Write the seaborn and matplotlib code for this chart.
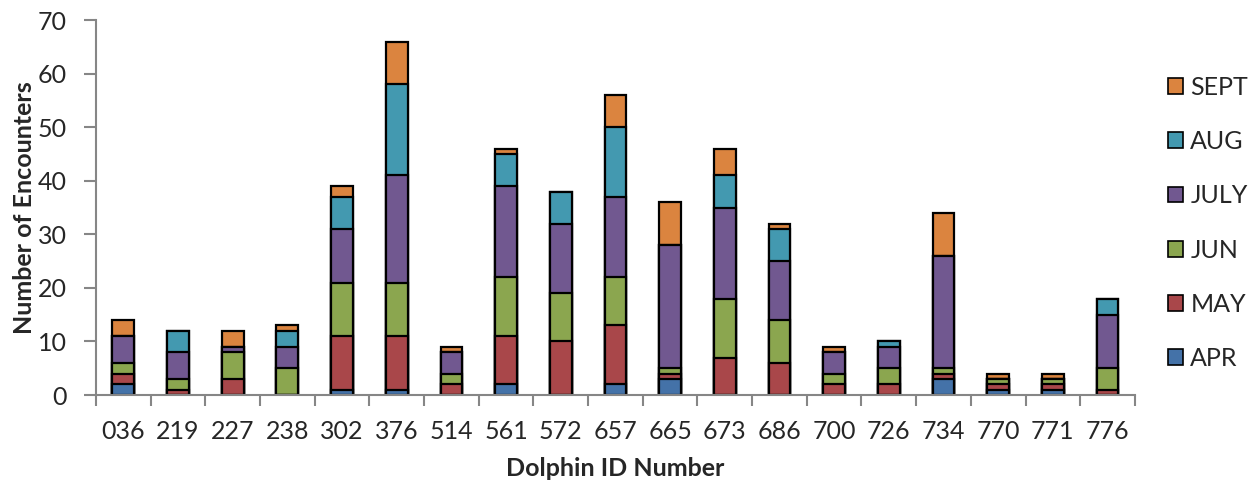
import numpy as np
import matplotlib
matplotlib.use("Agg")
import matplotlib.pyplot as plt
from matplotlib.patches import Patch
import seaborn as sns

dolphin_ids = ["036", "219", "227", "238", "302", "376", "514", "561", "572", "657",
               "665", "673", "686", "700", "726", "734", "770", "771", "776"]
months = ["APR", "MAY", "JUN", "JULY", "AUG", "SEPT"]
apr = [2, 0, 0, 0, 1, 1, 0, 2, 0, 2, 3, 0, 0, 0, 0, 3, 1, 1, 0]
may = [2, 1, 3, 0, 10, 10, 2, 9, 10, 11, 1, 7, 6, 2, 2, 1, 1, 1, 1]
jun = [2, 2, 5, 5, 10, 10, 2, 11, 9, 9, 1, 11, 8, 2, 3, 1, 1, 1, 4]
july = [5, 5, 1, 4, 10, 20, 4, 17, 13, 15, 23, 17, 11, 4, 4, 21, 0, 0, 10]
aug = [0, 4, 0, 3, 6, 17, 0, 6, 6, 13, 0, 6, 6, 0, 1, 0, 0, 0, 3]
sept = [3, 0, 3, 1, 2, 8, 1, 1, 0, 6, 8, 5, 1, 1, 0, 8, 1, 1, 0]
colors = ["#4472A8", "#A9474A", "#8BA64F", "#715890", "#4399B0", "#DB843F"]

sns.set_theme(style="white")
plt.rcParams["font.family"] = ["Lato", "DejaVu Sans"]

fig, ax = plt.subplots(figsize=(12.54, 4.8), dpi=100)
fig.subplots_adjust(left=0.0766, right=0.905, bottom=0.177, top=0.958)

# stack by overdrawing cumulative totals, tallest first
series = np.array([apr, may, jun, july, aug, sept])
cum = series.cumsum(axis=0)
for i in range(len(months) - 1, -1, -1):
    sns.barplot(x=dolphin_ids, y=cum[i], color=colors[i], width=0.4,
                edgecolor="black", linewidth=1.6, saturation=1, ax=ax)

ax.set_ylim(0, 70)
ax.set_xlim(-0.5, len(dolphin_ids) - 0.5)
ax.set_yticks(range(0, 71, 10))
ax.set_xticks(np.arange(-0.5, len(dolphin_ids), 1), minor=True)
ax.tick_params(axis="x", which="major", length=0, labelsize=18, pad=18)
ax.tick_params(axis="x", which="minor", length=8, width=1.5, color="#868686", direction="out", bottom=True)
ax.tick_params(axis="y", length=9, width=1.5, color="#868686", direction="out", left=True, labelsize=18, pad=12)
for side in ["top", "right"]:
    ax.spines[side].set_visible(False)
for side in ["left", "bottom"]:
    ax.spines[side].set_color("#868686")
    ax.spines[side].set_linewidth(1.5)

ax.set_xlabel("Dolphin ID Number", fontsize=18, fontweight="bold", va="top")
ax.set_ylabel("Number of Encounters", fontsize=18, fontweight="bold")
ax.xaxis.set_label_coords(0.5, -0.165)
ax.yaxis.set_label_coords(-0.058, 0.5)

handles = [Patch(facecolor=colors[i], edgecolor="black", linewidth=1.2, label=months[i])
           for i in range(len(months) - 1, -1, -1)]
ax.legend(handles=handles, loc="center left", bbox_to_anchor=(1.01, 0.459), frameon=False,
          fontsize=18, labelspacing=1.25, handlelength=0.6, handleheight=0.6, handletextpad=0.3)

fig.savefig("out.png", dpi=100)
